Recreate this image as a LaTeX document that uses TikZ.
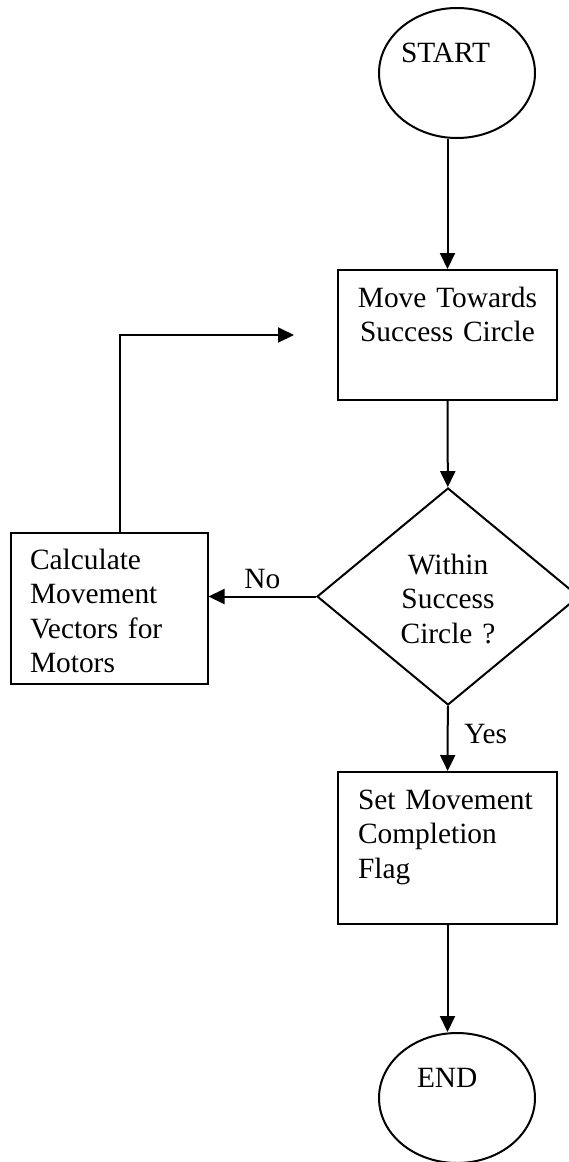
\documentclass[tikz,border=0pt]{standalone}
\usepackage{fontspec}
\setmainfont{Liberation Serif}
\usetikzlibrary{positioning,shapes.geometric,arrows.meta}

\begin{document}
\begin{tikzpicture}[x=0.5pt,y=-0.5pt,line width=1pt,>={Triangle[length=8pt,width=7.5pt]},
        font=\fontsize{14.7pt}{17.25pt}\selectfont,
        terminal/.style={ellipse,draw=black,minimum width=78pt,minimum height=65pt,inner xsep=-4pt,inner ysep=0pt,align=left,text height=10pt,text depth=21pt},
        process/.style={rectangle,draw=black,inner ysep=0pt},
        decision/.style={diamond,draw=black,minimum width=131pt,minimum height=108.5pt,inner sep=0pt,text width=52pt,align=center,text height=10pt,text depth=32.5pt}]
        \useasboundingbox (0,0) rectangle (568,1162);
        \node at (457,73)[terminal,text width=56pt] (start) {START};
        \node at (447.5,335)[process,inner xsep=4pt,text width=101.5pt,align=center,text height=18.5pt,text depth=46.5pt] (move) {Move Towards\\Success Circle};
        \node at (448,596.5)[decision] (check) {Within\\Success\\Circle ?};
        \node at (109,608.5)[process,inner xsep=9.75pt,text width=79pt,align=left,text height=18pt,text depth=57.5pt] (calc) {Calculate\\Movement\\Vectors for\\Motors};
        \node at (447.5,848)[process,inner xsep=10pt,text width=89.5pt,align=left,text height=18.5pt,text depth=57.5pt] (flag) {Set Movement\\Completion\\Flag};
        \node at (457,1098)[terminal,text width=40pt] (end) {END};
        \coordinate[left=21.5pt of move.west] (loopend);
        \draw [->] (start.south -| move.north) to (move.north);
        \draw [->] (move) to (check);
        \draw [->] (check.west) to node[midway,above] {No} (check.west -| calc.east);
        \draw [->] ([xshift=5.5pt]calc.north) |- (loopend);
        \draw [->] (check) to node[pos=0.43,right=4.5pt] {Yes} (flag);
        \draw [->] (flag.south) to (flag.south |- end.north);
    \end{tikzpicture}
\end{document}
